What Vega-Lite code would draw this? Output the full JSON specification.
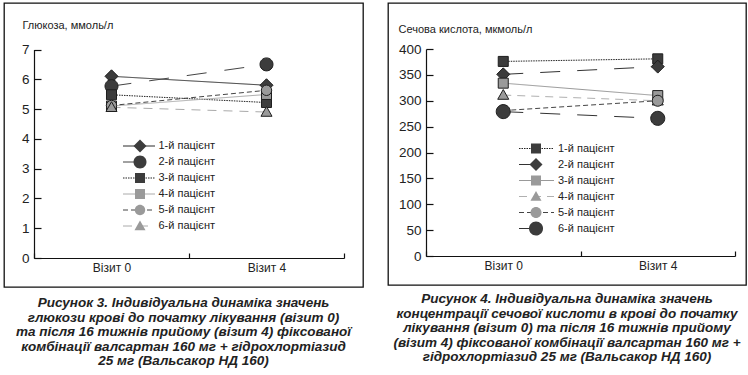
{
  "$schema": "https://vega.github.io/schema/vega-lite/v6.json",
  "padding": {"left": 3, "top": 2, "right": 0, "bottom": 0},
  "background": "white",
  "spacing": 23,
  "datasets": {
    "glucose": [
      {"patient": "1-й пацієнт", "visit": "Візит 0", "value": 6.1},
      {"patient": "1-й пацієнт", "visit": "Візит 4", "value": 5.8},
      {"patient": "2-й пацієнт", "visit": "Візит 0", "value": 5.77},
      {"patient": "2-й пацієнт", "visit": "Візит 4", "value": 6.5},
      {"patient": "3-й пацієнт", "visit": "Візит 0", "value": 5.48},
      {"patient": "3-й пацієнт", "visit": "Візит 4", "value": 5.22},
      {"patient": "4-й пацієнт", "visit": "Візит 0", "value": 5.1},
      {"patient": "4-й пацієнт", "visit": "Візит 4", "value": 5.49},
      {"patient": "5-й пацієнт", "visit": "Візит 0", "value": 5.12},
      {"patient": "5-й пацієнт", "visit": "Візит 4", "value": 5.63},
      {"patient": "6-й пацієнт", "visit": "Візит 0", "value": 5.06},
      {"patient": "6-й пацієнт", "visit": "Візит 4", "value": 4.9}
    ],
    "uric": [
      {"patient": "1-й пацієнт", "visit": "Візит 0", "value": 376},
      {"patient": "1-й пацієнт", "visit": "Візит 4", "value": 381},
      {"patient": "2-й пацієнт", "visit": "Візит 0", "value": 351},
      {"patient": "2-й пацієнт", "visit": "Візит 4", "value": 366},
      {"patient": "3-й пацієнт", "visit": "Візит 0", "value": 334},
      {"patient": "3-й пацієнт", "visit": "Візит 4", "value": 310},
      {"patient": "4-й пацієнт", "visit": "Візит 0", "value": 311},
      {"patient": "4-й пацієнт", "visit": "Візит 4", "value": 300},
      {"patient": "5-й пацієнт", "visit": "Візит 0", "value": 281},
      {"patient": "5-й пацієнт", "visit": "Візит 4", "value": 300},
      {"patient": "6-й пацієнт", "visit": "Візит 0", "value": 279},
      {"patient": "6-й пацієнт", "visit": "Візит 4", "value": 266}
    ]
  },
  "resolve": {
    "scale": {"color": "independent", "strokeDash": "independent", "shape": "independent", "fill": "independent"},
    "legend": {"color": "independent", "strokeDash": "independent", "shape": "independent", "fill": "independent"}
  },
  "hconcat": [
    {
      "width": 359,
      "height": 284,
      "data": {"name": "glucose"},
      "title": {
        "text": ["Рисунок 3. Індивідуальна динаміка значень", "глюкози крові до початку лікування (візит 0)", "та після 16 тижнів прийому (візит 4) фіксованої", "комбінації валсартан 160 мг + гідрохлортіазид", "25 мг (Вальсакор НД 160)"],
        "orient": "bottom", "anchor": "middle", "offset": 9
      },
      "encoding": {
        "x": {"field": "visit", "type": "nominal",
          "scale": {"type": "band", "range": [30, 340], "paddingInner": 0, "paddingOuter": 0},
          "axis": {"title": null, "labelAngle": 0, "tickBand": "extent", "tickSize": -5, "labelPadding": 9, "offset": -29, "labelFontSize": 12}},
        "y": {"field": "value", "type": "quantitative",
          "scale": {"domain": [0, 7], "range": [255, 46.5], "nice": false, "zero": true},
          "axis": {"values": [0, 1, 2, 3, 4, 5, 6, 7], "offset": -30, "tickSize": -7, "labelPadding": 12, "labelFontSize": 13.5, "labelFlush": false,
            "title": "Глюкоза, ммоль/л", "titleAngle": 0, "titleX": -12, "titleY": 22, "titleAlign": "left", "titleBaseline": "middle", "titleFontSize": 11, "titleFontWeight": "normal", "titleColor": "#222"}}
      },
      "layer": [
        {
          "mark": {"type": "line", "strokeWidth": 1},
          "encoding": {
            "color": {"field": "patient", "type": "nominal",
              "scale": {"domain": ["1-й пацієнт", "2-й пацієнт", "3-й пацієнт", "4-й пацієнт", "5-й пацієнт", "6-й пацієнт"], "range": ["#2a2a2a", "#444444", "#222222", "#aaaaaa", "#444444", "#aaaaaa"]},
              "legend": {"orient": "none", "legendX": 118.5, "legendY": 135, "title": null, "symbolType": "stroke", "symbolSize": 1024, "symbolStrokeWidth": 1, "clipHeight": 16, "rowPadding": 0, "padding": 0, "labelFontSize": 11, "labelColor": "#222", "labelOffset": 3, "labelFont": "Liberation Sans"}},
            "strokeDash": {"field": "patient", "type": "nominal",
              "scale": {"domain": ["1-й пацієнт", "2-й пацієнт", "3-й пацієнт", "4-й пацієнт", "5-й пацієнт", "6-й пацієнт"], "range": [[1, 0], [20, 18], [1.5, 1], [1, 0], [5, 3], [9, 7]]},
              "legend": {"orient": "none", "legendX": 118.5, "legendY": 135, "title": null, "symbolType": "stroke", "symbolSize": 1024, "symbolStrokeWidth": 1, "clipHeight": 16, "rowPadding": 0, "padding": 0, "labelFontSize": 11, "labelColor": "#222", "labelOffset": 3, "labelFont": "Liberation Sans"}}
          }
        },
        {
          "mark": {"type": "point", "filled": true, "opacity": 1, "stroke": "#1e1e1e", "strokeWidth": 1, "size": 169},
          "encoding": {
            "shape": {"field": "patient", "type": "nominal",
              "scale": {"range": ["M0,-1L1,0L0,1L-1,0Z", "M-1,0A1,1,0,1,1,1,0A1,1,0,1,1,-1,0Z", "M-0.77,-0.77H0.77V0.77H-0.77Z", "M-0.77,-0.77H0.77V0.77H-0.77Z", "M-0.8,0A0.8,0.8,0,1,1,0.8,0A0.8,0.8,0,1,1,-0.8,0Z", "M0,-0.85L0.85,0.65L-0.85,0.65Z"]},
              "legend": {"orient": "none", "legendX": 129, "legendY": 135, "title": null, "symbolSize": 169, "symbolStrokeColor": "#1e1e1e", "symbolStrokeWidth": 1, "symbolOpacity": 1, "clipHeight": 16, "rowPadding": 0, "padding": 0, "labelFontSize": 1, "labelExpr": "''"}},
            "fill": {"field": "patient", "type": "nominal",
              "scale": {"range": ["#3c3c3c", "#3c3c3c", "#3c3c3c", "#9a9a9a", "#9a9a9a", "#9a9a9a"]},
              "legend": {"orient": "none", "legendX": 129, "legendY": 135, "title": null, "symbolSize": 169, "symbolStrokeColor": "#1e1e1e", "symbolStrokeWidth": 1, "symbolOpacity": 1, "clipHeight": 16, "rowPadding": 0, "padding": 0, "labelFontSize": 1, "labelExpr": "''"}}
          }
        }
      ]
    },
    {
      "width": 358,
      "height": 282,
      "data": {"name": "uric"},
      "title": {
        "text": ["Рисунок 4. Індивідуальна динаміка значень", "концентрації сечової кислоти в крові до початку", "лікування (візит 0) та після 16 тижнів прийому", "(візит 4) фіксованої комбінації валсартан 160 мг +", "гідрохлортіазид 25 мг (Вальсакор НД 160)"],
        "orient": "bottom", "anchor": "middle", "offset": 7
      },
      "encoding": {
        "x": {"field": "visit", "type": "nominal",
          "scale": {"type": "band", "range": [38, 347], "paddingInner": 0, "paddingOuter": 0},
          "axis": {"title": null, "labelAngle": 0, "tickBand": "extent", "tickSize": -5, "labelPadding": 9, "offset": -29, "labelFontSize": 12}},
        "y": {"field": "value", "type": "quantitative",
          "scale": {"domain": [0, 400], "range": [253, 46], "nice": false, "zero": true},
          "axis": {"values": [0, 50, 100, 150, 200, 250, 300, 350, 400], "offset": -38, "tickSize": -7, "labelPadding": 12, "labelFontSize": 13.5, "labelFlush": false,
            "title": "Сечова кислота, мкмоль/л", "titleAngle": 0, "titleX": -28, "titleY": 26, "titleAlign": "left", "titleBaseline": "middle", "titleFontSize": 11, "titleFontWeight": "normal", "titleColor": "#222"}}
      },
      "layer": [
        {
          "mark": {"type": "line", "strokeWidth": 1},
          "encoding": {
            "color": {"field": "patient", "type": "nominal",
              "scale": {"domain": ["1-й пацієнт", "2-й пацієнт", "3-й пацієнт", "4-й пацієнт", "5-й пацієнт", "6-й пацієнт"], "range": ["#222222", "#333333", "#999999", "#b0b0b0", "#444444", "#333333"]},
              "legend": {"orient": "none", "legendX": 130.5, "legendY": 137.5, "title": null, "symbolType": "stroke", "symbolSize": 1225, "symbolStrokeWidth": 1, "clipHeight": 16, "rowPadding": 0, "padding": 0, "labelFontSize": 11, "labelColor": "#222", "labelOffset": 3.5, "labelFont": "Liberation Sans"}},
            "strokeDash": {"field": "patient", "type": "nominal",
              "scale": {"domain": ["1-й пацієнт", "2-й пацієнт", "3-й пацієнт", "4-й пацієнт", "5-й пацієнт", "6-й пацієнт"], "range": [[1.5, 1], [20, 17], [1, 0], [8, 6], [5, 3], [20, 17]]},
              "legend": {"orient": "none", "legendX": 130.5, "legendY": 137.5, "title": null, "symbolType": "stroke", "symbolSize": 1225, "symbolStrokeWidth": 1, "clipHeight": 16, "rowPadding": 0, "padding": 0, "labelFontSize": 11, "labelColor": "#222", "labelOffset": 3.5, "labelFont": "Liberation Sans"}}
          }
        },
        {
          "mark": {"type": "point", "filled": true, "opacity": 1, "stroke": "#1e1e1e", "strokeWidth": 1, "size": 169},
          "encoding": {
            "shape": {"field": "patient", "type": "nominal",
              "scale": {"range": ["M-0.77,-0.77H0.77V0.77H-0.77Z", "M0,-1L1,0L0,1L-1,0Z", "M-0.77,-0.77H0.77V0.77H-0.77Z", "M0,-0.85L0.85,0.65L-0.85,0.65Z", "M-0.85,0A0.85,0.85,0,1,1,0.85,0A0.85,0.85,0,1,1,-0.85,0Z", "M-1.08,0A1.08,1.08,0,1,1,1.08,0A1.08,1.08,0,1,1,-1.08,0Z"]},
              "legend": {"orient": "none", "legendX": 141, "legendY": 137.5, "title": null, "symbolSize": 169, "symbolStrokeColor": "#1e1e1e", "symbolStrokeWidth": 1, "symbolOpacity": 1, "clipHeight": 16, "rowPadding": 0, "padding": 0, "labelFontSize": 1, "labelExpr": "''"}},
            "fill": {"field": "patient", "type": "nominal",
              "scale": {"range": ["#3c3c3c", "#3c3c3c", "#9a9a9a", "#9a9a9a", "#9a9a9a", "#3c3c3c"]},
              "legend": {"orient": "none", "legendX": 141, "legendY": 137.5, "title": null, "symbolSize": 169, "symbolStrokeColor": "#1e1e1e", "symbolStrokeWidth": 1, "symbolOpacity": 1, "clipHeight": 16, "rowPadding": 0, "padding": 0, "labelFontSize": 1, "labelExpr": "''"}}
          }
        }
      ]
    }
  ],
  "config": {
    "font": "Liberation Sans",
    "view": {"stroke": "#111111", "strokeWidth": 1.3},
    "axis": {"grid": false, "domainColor": "#111111", "tickColor": "#111111", "domainWidth": 1.2, "tickWidth": 1.2, "labelColor": "#222222", "labelFont": "Liberation Sans", "titleFont": "Liberation Sans", "labelOverlap": false},
    "title": {"font": "Liberation Sans", "fontSize": 13.5, "fontWeight": "bold", "fontStyle": "italic", "lineHeight": 14.5, "color": "#222222"}
  }
}
